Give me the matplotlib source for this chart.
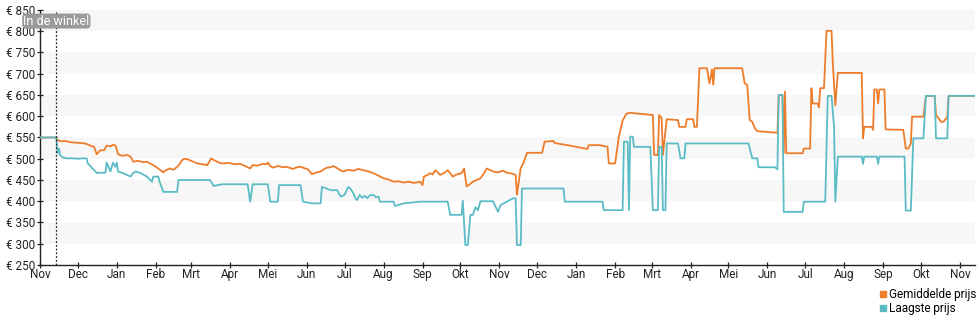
import matplotlib
matplotlib.use("Agg")
import matplotlib.pyplot as plt
import matplotlib.dates as mdates
import pandas as pd

ORANGE = "#ee7d2b"
TEAL = "#5bbcc6"
BAND = "#f7f7f7"
plt.rcParams.update({"font.family": ["Roboto", "DejaVu Sans"], "font.size": 8})

START = pd.Timestamp("2022-11-01")
END_DAY = 743
IN_STORE_DAY = 13  # product listed in the shop

# average price: days since START / price in euro
avg_days = [0, 13, 14, 17, 20, 24, 28, 32, 36, 40,
            43, 45, 47, 48, 51, 53, 56, 58, 60, 62,
            64, 66, 69, 72, 74, 78, 82, 85, 88, 90,
            94, 98, 100, 103, 106, 109, 111, 113, 115, 117,
            121, 125, 129, 133, 136, 138, 141, 143, 145, 150,
            155, 159, 163, 167, 169, 173, 177, 180, 181, 183,
            185, 189, 193, 196, 199, 201, 204, 207, 210, 213,
            216, 219, 223, 226, 228, 231, 233, 236, 238, 241,
            245, 249, 253, 257, 261, 265, 269, 273, 277, 281,
            285, 289, 293, 297, 302, 304, 305, 308, 310, 312,
            314, 316, 318, 321, 324, 326, 328, 331, 335, 337,
            339, 342, 344, 347, 350, 352, 355, 358, 360, 364,
            368, 371, 375, 378, 379, 382, 384, 387, 399, 401,
            408, 409, 419, 435, 436, 445, 451, 452, 457, 460,
            463, 466, 469, 487, 488, 491, 492, 494, 495, 498,
            507, 508, 513, 514, 519, 520, 522, 524, 530, 532,
            534, 535, 536, 558, 560, 562, 564, 566, 568, 570,
            586, 587, 590, 591, 592, 593, 606, 607, 612, 613,
            614, 618, 619, 620, 623, 625, 629, 630, 631, 632,
            634, 653, 654, 655, 661, 662, 663, 665, 666, 667,
            671, 672, 686, 688, 690, 692, 693, 702, 704, 711,
            712, 716, 718, 721, 722, 743]
avg_price = [550, 550, 544, 541, 542, 539, 538, 537, 536, 531,
             528, 511, 517, 520, 520, 531, 529, 533, 531, 511,
             508, 507, 509, 505, 493, 495, 492, 493, 488, 485,
             477, 468, 473, 477, 474, 481, 488, 497, 500, 499,
             494, 489, 487, 485, 501, 497, 493, 490, 489, 490,
             487, 488, 483, 477, 485, 484, 488, 487, 491, 483,
             479, 483, 480, 481, 478, 476, 480, 481, 478, 475,
             464, 467, 470, 476, 479, 480, 483, 478, 474, 470,
             474, 472, 476, 473, 470, 466, 460, 454, 451, 446,
             447, 444, 446, 443, 446, 438, 458, 462, 466, 463,
             473, 468, 462, 466, 473, 466, 458, 463, 466, 477,
             435, 441, 446, 450, 454, 462, 477, 473, 470, 468,
             472, 467, 465, 462, 415, 478, 489, 514, 514, 540,
             542, 537, 532, 523, 532, 532, 528, 489, 489, 552,
             590, 606, 608, 603, 509, 509, 603, 596, 509, 593,
             591, 575, 575, 593, 593, 575, 575, 713, 713, 677,
             710, 674, 713, 713, 677, 674, 591, 587, 572, 565,
             561, 650, 650, 513, 658, 513, 513, 524, 524, 666,
             630, 630, 621, 666, 666, 801, 801, 725, 677, 626,
             702, 702, 548, 575, 575, 568, 663, 663, 630, 663,
             663, 569, 568, 524, 524, 536, 599, 599, 648, 648,
             603, 587, 587, 599, 648, 648]

# lowest price: days since START / price in euro
low_days = [0, 13, 14, 15, 16, 18, 21, 26, 30, 34,
            37, 38, 45, 52, 53, 56, 58, 60, 61, 62,
            66, 72, 74, 76, 80, 85, 89, 90, 94, 95,
            98, 109, 110, 135, 138, 145, 165, 167, 169, 181,
            183, 189, 190, 207, 209, 216, 223, 224, 231, 236,
            239, 242, 245, 247, 249, 251, 252, 254, 256, 258,
            260, 262, 265, 267, 269, 270, 281, 282, 289, 302,
            324, 326, 335, 336, 338, 340, 342, 344, 346, 348,
            350, 360, 364, 366, 371, 376, 378, 379, 382, 383,
            416, 417, 447, 448, 463, 464, 467, 468, 469, 471,
            472, 485, 487, 491, 492, 494, 495, 497, 498, 507,
            509, 512, 513, 563, 566, 570, 571, 584, 586, 587,
            590, 591, 606, 607, 624, 626, 629, 631, 632, 634,
            653, 654, 655, 665, 666, 667, 687, 688, 692, 694,
            702, 704, 711, 712, 721, 722, 743]
low_price = [550, 550, 513, 524, 509, 503, 501, 501, 500, 501,
             501, 489, 467, 467, 491, 470, 491, 481, 491, 470,
             466, 458, 466, 470, 466, 458, 446, 458, 458, 446,
             422, 422, 450, 450, 436, 440, 440, 399, 440, 440,
             399, 399, 438, 438, 399, 395, 395, 434, 426, 426,
             411, 415, 434, 428, 419, 405, 403, 415, 408, 413,
             407, 414, 415, 409, 411, 399, 399, 389, 395, 399,
             399, 368, 368, 401, 297, 297, 368, 368, 386, 379,
             400, 400, 375, 391, 399, 407, 407, 297, 297, 430,
             430, 399, 399, 379, 379, 540, 540, 379, 552, 552,
             528, 528, 379, 379, 528, 528, 379, 379, 536, 536,
             501, 501, 536, 536, 501, 501, 480, 480, 475, 650,
             650, 375, 375, 399, 399, 648, 648, 575, 399, 505,
             505, 488, 505, 505, 488, 505, 505, 378, 378, 548,
             548, 648, 648, 548, 548, 648, 648]

MONTHS_NL = ["Jan", "Feb", "Mrt", "Apr", "Mei", "Jun", "Jul", "Aug", "Sep", "Okt", "Nov", "Dec"]

avg_dates = START + pd.to_timedelta(avg_days, unit="D")
low_dates = START + pd.to_timedelta(low_days, unit="D")

fig = plt.figure(figsize=(9.8, 3.25), dpi=100)
ax = fig.add_axes([40 / 980, 60 / 325, 935 / 980, 255 / 325])

# alternating price bands
for lo in range(300, 850, 100):
    ax.axhspan(lo, lo + 50, color=BAND, lw=0, zorder=0)

ax.plot(avg_dates, avg_price, color=ORANGE, lw=1.3, zorder=3)
ax.plot(low_dates, low_price, color=TEAL, lw=1.3, zorder=4)

shop = START + pd.Timedelta(days=IN_STORE_DAY)
ax.axvline(shop, color="#222222", lw=0.9, ls=(0, (1.5, 1.5)), zorder=5)
ax.text(shop, 824, "In de winkel", ha="center", va="center", color="white", fontsize=9, zorder=6,
        bbox=dict(boxstyle="round,pad=0.08,rounding_size=0.3", fc="#9a9a9a", ec="none"))

ax.set_xlim(START, START + pd.Timedelta(days=END_DAY))
ax.set_ylim(250, 850)
ax.set_yticks(range(250, 851, 50))
ax.yaxis.set_major_formatter(plt.FuncFormatter(lambda v, p: f"€ {v:.0f}"))
ax.xaxis.set_major_locator(mdates.MonthLocator())
ax.xaxis.set_major_formatter(plt.FuncFormatter(lambda v, p: MONTHS_NL[mdates.num2date(v).month - 1]))

for s in ("top", "right"):
    ax.spines[s].set_visible(False)
for s in ("left", "bottom"):
    ax.spines[s].set_color("#222222")
    ax.spines[s].set_linewidth(1.0)
ax.tick_params(axis="y", direction="inout", length=5, width=0.9, pad=1, labelsize=8.5, colors="#222222")
ax.tick_params(axis="x", direction="inout", length=5, width=0.9, pad=0, labelsize=8.5, colors="#222222")

h1 = plt.Line2D([], [], ls="none", marker="s", ms=5, color=ORANGE)
h2 = plt.Line2D([], [], ls="none", marker="s", ms=5, color=TEAL)
fig.legend([h1, h2], ["Gemiddelde prijs", "Laagste prijs"], loc="upper right",
           bbox_to_anchor=(976 / 980, 1 - 288 / 325), frameon=False, fontsize=8.5,
           handlelength=0.6, handletextpad=0.2, labelspacing=0.1, borderpad=0, borderaxespad=0)

fig.savefig("out.png", dpi=100)
